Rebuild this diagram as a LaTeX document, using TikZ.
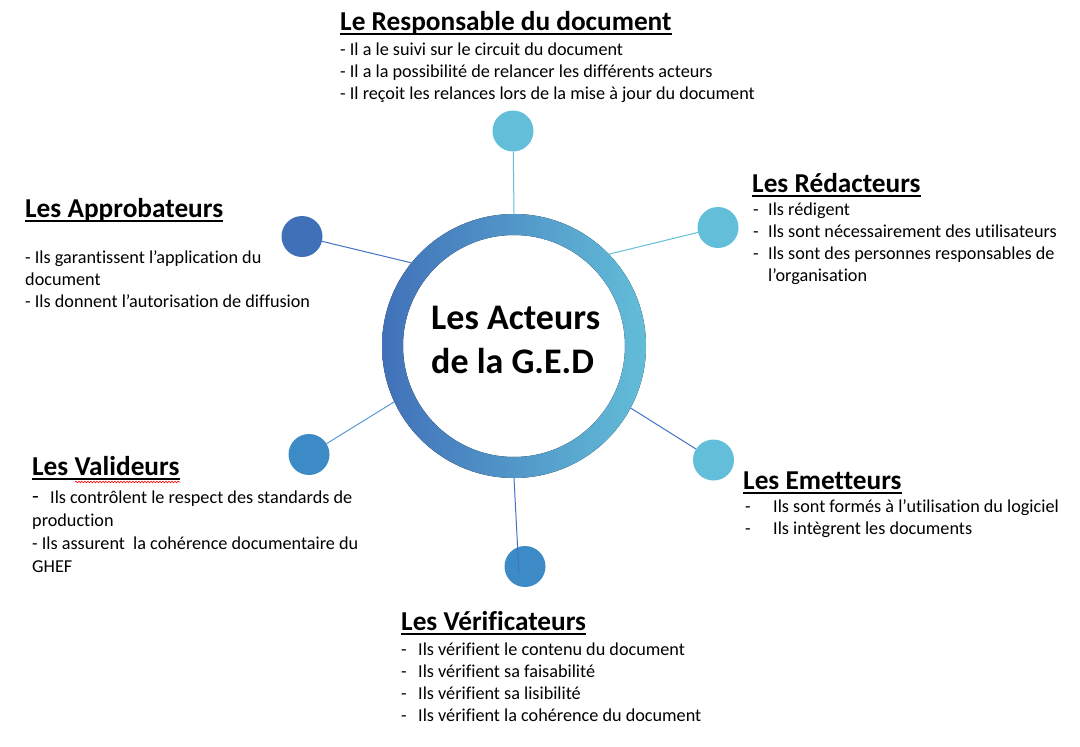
\documentclass[tikz,border=0pt]{standalone}
\usepackage{fontspec}
\setmainfont{Carlito}[Ligatures=NoCommon]
\usetikzlibrary{calc,decorations.pathmorphing}
\definecolor{ringL}{HTML}{4171B9}
\definecolor{ringR}{HTML}{62BDD8}
\definecolor{light}{HTML}{63BFD9}
\definecolor{dark}{HTML}{4070B8}
\definecolor{mid}{HTML}{3D8BC6}
\definecolor{lnA}{HTML}{4472C4}
\definecolor{lnB}{HTML}{5B9BD5}
\newcommand{\titleline}[1]{\draw[line width=1.9pt] ($(#1.base west)+(0,3.8)$) -- ($(#1.base east)+(0,3.8)$);}
\begin{document}
\begin{tikzpicture}[x=1pt,y=-1pt,
  body/.style={anchor=base west, inner sep=0pt, font=\fontsize{18.2}{21}\selectfont},
  ttl/.style={anchor=base west, inner sep=0pt, font=\fontsize{27.3}{30}\selectfont\bfseries},
  ctr/.style={anchor=base west, inner sep=0pt, font=\fontsize{36}{44}\selectfont\bfseries},
  dot/.style={circle, minimum size=41pt, inner sep=0pt},
  link/.style={line width=1pt}]
\useasboundingbox[fill=white] (0,0) rectangle (1080,747);

% ring and satellites
\node[circle, minimum size=264pt, inner sep=0pt] (ring) at (514,346) {};
\node[dot, fill=light] (dresp) at (513,131) {};
\node[dot, fill=light] (dred) at (718,227.5) {};
\node[dot, fill=dark] (dapp) at (302,236.5) {};
\node[dot, fill=mid] (dval) at (309,454.5) {};
\node[dot, fill=light] (demi) at (713.5,460) {};
\node[dot, fill=mid] (dver) at (525,566.5) {};
\coordinate (vend) at (519,574);

\draw[link, light] (dresp) -- (ring.90);
\draw[link, light] (dred) -- (ring.44);
\draw[link, lnA] (dapp) -- (ring.141);
\draw[link, lnB] (dval) -- (ring.205);
\draw[link, lnA] (demi) -- (ring.-28);

\fill[left color=ringL, right color=ringR, even odd rule]
  (ring.center) circle[radius=132pt] (ring.center) circle[radius=111pt];

\node[ctr] (c1) at (431,329) {Les Acteurs};
\node[ctr] (c2) at (431,373) {de la G.E.D};

% Responsable
\node[ttl] (tresp) at (340,30) {Le Responsable du document};
\titleline{tresp}
\node[body] (r1) at (340,55) {- Il a le suivi sur le circuit du document};
\node[body] (r2) at (340,77) {- Il a la possibilité de relancer les différents acteurs};
\node[body] (r3) at (340,99) {- Il reçoit les relances lors de la mise à jour du document};

% Redacteurs
\node[ttl] (tred) at (752,192) {Les Rédacteurs};
\titleline{tred}
\node[body] (e1) at (753,215) {\makebox[15pt][l]{-}Ils rédigent};
\node[body] (e2) at (753,237) {\makebox[15pt][l]{-}Ils sont nécessairement des utilisateurs};
\node[body] (e3) at (753,259) {\makebox[15pt][l]{-}Ils sont des personnes responsables de};
\node[body] (e4) at (768,281) {l’organisation};

% Approbateurs
\node[ttl] (tapp) at (25,217) {Les Approbateurs};
\titleline{tapp}
\node[body] (a1) at (25,263) {- Ils garantissent l’application du};
\node[body] (a2) at (25,285) {document};
\node[body] (a3) at (25,307) {- Ils donnent l’autorisation de diffusion};

% Valideurs
\node[ttl] (tval) at (32,475) {Les Valideurs};
\draw[red, line width=0.6pt, decorate, decoration={snake, amplitude=0.8pt, segment length=3pt}] (75,482) -- (180,482);
\titleline{tval}
\node[body] (v1) at (32,503) {\makebox[18pt][l]{\fontsize{22}{22}\selectfont -}Ils contrôlent le respect des standards de};
\node[body] (v2) at (32,526) {production};
\node[body] (v3) at (32,549) {- Ils assurent\ \ la cohérence documentaire du};
\node[body] (v4) at (32,572) {GHEF};

% Emetteurs
\node[ttl] (temi) at (743,489) {Les Emetteurs};
\titleline{temi}
\node[body] (m1) at (745,512) {\makebox[28pt][l]{-}Ils sont formés à l’utilisation du logiciel};
\node[body] (m2) at (745,534) {\makebox[28pt][l]{-}Ils intègrent les documents};

% Verificateurs
\draw[link, lnA] (ring.270) -- (vend);
\node[ttl] (tver) at (401,630) {Les Vérificateurs};
\titleline{tver}
\node[body] (f1) at (401,655) {\makebox[17pt][l]{-}Ils vérifient le contenu du document};
\node[body] (f2) at (401,677) {\makebox[17pt][l]{-}Ils vérifient sa faisabilité};
\node[body] (f3) at (401,699) {\makebox[17pt][l]{-}Ils vérifient sa lisibilité};
\node[body] (f4) at (401,721) {\makebox[17pt][l]{-}Ils vérifient la cohérence du document};
\end{tikzpicture}
\end{document}
